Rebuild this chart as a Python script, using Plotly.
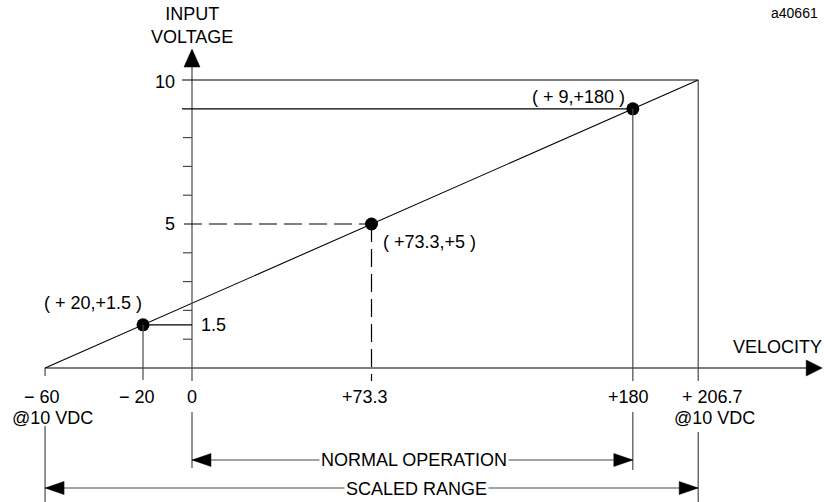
import plotly.graph_objects as go

# ---- data ----
scaled_velocity = [-60, 206.7]
scaled_voltage = [0, 10]
point_velocity = [-20, 73.3, 180]
point_voltage = [1.5, 5, 9]
point_labels = ["( + 20,+1.5 )", "( +73.3,+5 )", "( + 9,+180 )"]
point_label_shift = [(-50, 22), (58, -18), (-54, 12)]
x_tick_values = [-60, -20, 0, 73.3, 180, 206.7]
x_tick_labels = ["− 60", "− 20", "0", "+73.3", "+180", "+ 206.7"]
x_tick_xshift = [-3, -6, 0, -7, -4, 14]
y_minor_ticks = [1, 2, 3, 4, 6, 7, 8]
y_tick_labels = {10: "10", 5: "5", 1.5: "1.5"}
normal_range = [0, 180]

# ---- layout scale (pixels per unit) ----
W, H = 824, 502
PX_X, X0 = 2.449, 192.0
PX_Y, Y0 = 28.8, 368.0
x_range = [-X0 / PX_X, (W - X0) / PX_X]
y_range = [-(H - Y0) / PX_Y, Y0 / PX_Y]


def dx(p):
    return p / PX_X


def dy(p):
    return p / PX_Y


BLACK = "#000000"
GRAY = "#4a4a4a"
FONT = "Liberation Sans, Arial, sans-serif"
FS = 18

shapes = []


def line(x0, y0, x1, y1, color=BLACK, width=1.2, dash="solid"):
    shapes.append(dict(type="line", xref="x", yref="y", x0=x0, y0=y0, x1=x1, y1=y1,
                       line=dict(color=color, width=width, dash=dash), layer="above"))


def tri(points, color=BLACK):
    path = "M " + " L ".join(f"{a},{b}" for a, b in points) + " Z"
    shapes.append(dict(type="path", xref="x", yref="y", path=path,
                       fillcolor=color, line=dict(color=color, width=0.5), layer="above"))


vmin, vmax = scaled_voltage
smin, smax = scaled_velocity

# x axis with arrow
x_end = smax + dx(108)
line(smin, 0, x_end, 0)
tri([(x_end, dy(8)), (x_end + dx(16), 0), (x_end, -dy(8))])

# y axis with arrow
line(0, -dy(13), 0, vmax + dy(13), color=GRAY)
tri([(-dx(8), vmax + dy(13)), (0, vmax + dy(31)), (dx(8), vmax + dy(13))])

# y minor ticks
for t in y_minor_ticks:
    line(-dx(9), t, 0, t, color=GRAY)

# horizontal reference lines
line(-dx(10), vmax, smax, vmax)
line(-dx(10), point_voltage[2], point_velocity[2], point_voltage[2])
line(point_velocity[0], point_voltage[0], 0, point_voltage[0])
line(-dx(8), point_voltage[1], point_velocity[1], point_voltage[1], dash="18px,7px")

# vertical drop lines
line(smax, vmax, smax, -dy(13), color=GRAY)
line(point_velocity[2], point_voltage[2], point_velocity[2], -dy(13), color=GRAY)
line(point_velocity[1], point_voltage[1], point_velocity[1], -dy(13), dash="18px,7px")
line(point_velocity[0], point_voltage[0], point_velocity[0], -dy(12), color=GRAY)
line(smin, 0, smin, -dy(8), color=GRAY)

# extension lines for dimensions
line(normal_range[0], -dy(44), normal_range[0], -dy(100), color=GRAY)
line(normal_range[1], -dy(44), normal_range[1], -dy(102), color=GRAY)
line(smin, -dy(58), smin, -dy(134), color=GRAY)
line(smax, -dy(64), smax, -dy(134), color=GRAY)

# dimension arrows
for (a, b), ypix in ((normal_range, 92), ((smin, smax), 120)):
    yy = -dy(ypix)
    line(a, yy, b, yy, color=GRAY)
    tri([(a, yy), (a + dx(19), yy + dy(6.5)), (a + dx(19), yy - dy(6.5))])
    tri([(b, yy), (b - dx(19), yy + dy(6.5)), (b - dx(19), yy - dy(6.5))])

fig = go.Figure()

# the transfer line
fig.add_trace(go.Scatter(x=scaled_velocity, y=scaled_voltage, mode="lines",
                         line=dict(color=BLACK, width=1.1), hoverinfo="skip"))
# the points
fig.add_trace(go.Scatter(x=point_velocity, y=point_voltage, mode="markers",
                         marker=dict(color=BLACK, size=13), hoverinfo="skip"))

ann = []


def text(s, x, y, xs=0, ys=0, size=FS, xref="x", yref="y", bg=None, xanchor="center"):
    d = dict(text=s, x=x, y=y, xref=xref, yref=yref, xshift=xs, yshift=ys, showarrow=False,
             font=dict(family=FONT, size=size, color=BLACK), xanchor=xanchor, yanchor="middle")
    if bg:
        d["bgcolor"] = bg
        d["borderpad"] = 1
    ann.append(d)


text("INPUT<br>VOLTAGE", 0, vmax, 0, 55)
for v, s in y_tick_labels.items():
    if v == 1.5:
        text(s, 0, v, 21, 0)
    elif v == 10:
        text(s, 0, v, -27, -2)
    else:
        text(s, 0, v, -22, 0)

for xv, s, xs in zip(x_tick_values, x_tick_labels, x_tick_xshift):
    text(s, xv, 0, xs, -29)
text("@10 VDC", smin, 0, 7, -50)
text("@10 VDC", smax, 0, 16, -50)

for xv, yv, s, (xs, ys) in zip(point_velocity, point_voltage, point_labels, point_label_shift):
    text(s, xv, yv, xs, ys)

text("VELOCITY", smax, 0, 79, 21)
text("a40661", 794 / W, 1 - 13 / H, size=14, xref="paper", yref="paper")
text("NORMAL OPERATION", (normal_range[0] + normal_range[1]) / 2, -dy(92), 2, 0, bg="white")
text("SCALED RANGE", (smin + smax) / 2, -dy(121), 45, 0, bg="white")

fig.update_layout(
    width=W, height=H,
    margin=dict(l=0, r=0, t=0, b=0),
    paper_bgcolor="white", plot_bgcolor="white",
    showlegend=False,
    xaxis=dict(range=x_range, visible=False, fixedrange=True),
    yaxis=dict(range=y_range, visible=False, fixedrange=True),
    shapes=shapes,
    annotations=ann,
)

fig.write_html("out.html", config={"displayModeBar": False},
               post_script="document.body.style.margin='0';document.body.style.overflow='hidden';")
